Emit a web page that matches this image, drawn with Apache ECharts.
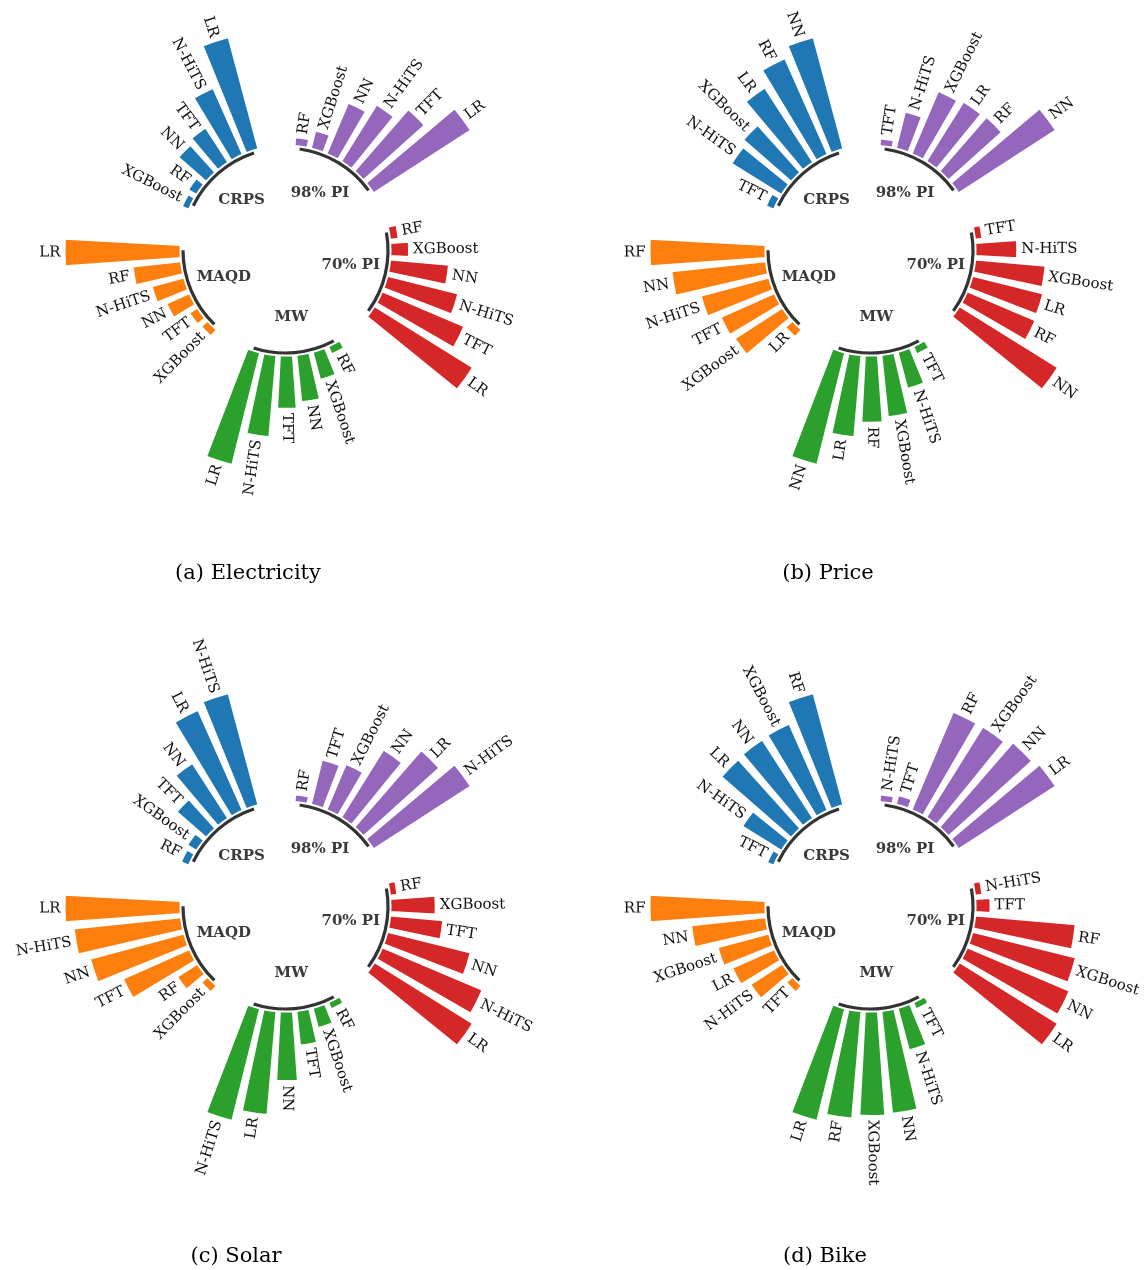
<!DOCTYPE html>
<html>
<head>
<meta charset="utf-8">
<script src="https://cdn.jsdelivr.net/npm/echarts@6/dist/echarts.min.js"></script>
<style>
html, body { margin: 0; padding: 0; background: #fff; }
#main { width: 1144px; height: 1270px; }
</style>
</head>
<body>
<div id="main"></div>
<script>
var groups = ['CRPS', '98% PI', '70% PI', 'MW', 'MAQD'];

// models of every metric, listed clockwise (shortest bar first)
var elecModels = [
    ['XGBoost', 'RF', 'NN', 'TFT', 'N-HiTS', 'LR'],
    ['RF', 'XGBoost', 'NN', 'N-HiTS', 'TFT', 'LR'],
    ['RF', 'XGBoost', 'NN', 'N-HiTS', 'TFT', 'LR'],
    ['RF', 'XGBoost', 'NN', 'TFT', 'N-HiTS', 'LR'],
    ['XGBoost', 'TFT', 'NN', 'N-HiTS', 'RF', 'LR']
];
var elecScores = [
    [0.065, 0.085, 0.32, 0.36, 0.63, 1.00],
    [0.075, 0.16, 0.48, 0.58, 0.71, 1.00],
    [0.075, 0.16, 0.51, 0.63, 0.77, 1.00],
    [0.075, 0.25, 0.41, 0.46, 0.71, 1.00],
    [0.075, 0.085, 0.22, 0.29, 0.42, 1.00]
];

var priceModels = [
    ['TFT', 'N-HiTS', 'XGBoost', 'LR', 'RF', 'NN'],
    ['TFT', 'N-HiTS', 'XGBoost', 'LR', 'RF', 'NN'],
    ['TFT', 'N-HiTS', 'XGBoost', 'LR', 'RF', 'NN'],
    ['TFT', 'N-HiTS', 'XGBoost', 'RF', 'LR', 'NN'],
    ['LR', 'XGBoost', 'TFT', 'N-HiTS', 'NN', 'RF']
];
var priceScores = [
    [0.075, 0.51, 0.55, 0.77, 0.91, 1.00],
    [0.065, 0.33, 0.59, 0.61, 0.62, 1.00],
    [0.065, 0.36, 0.61, 0.63, 0.64, 1.00],
    [0.075, 0.33, 0.54, 0.58, 0.71, 1.00],
    [0.085, 0.49, 0.51, 0.61, 0.82, 1.00]
];

var solarModels = [
    ['RF', 'XGBoost', 'TFT', 'NN', 'LR', 'N-HiTS'],
    ['RF', 'TFT', 'XGBoost', 'NN', 'LR', 'N-HiTS'],
    ['RF', 'XGBoost', 'TFT', 'NN', 'N-HiTS', 'LR'],
    ['RF', 'XGBoost', 'TFT', 'NN', 'LR', 'N-HiTS'],
    ['XGBoost', 'RF', 'TFT', 'NN', 'N-HiTS', 'LR']
];
var solarScores = [
    [0.075, 0.095, 0.34, 0.57, 0.95, 1.00],
    [0.065, 0.40, 0.43, 0.69, 0.88, 1.00],
    [0.065, 0.39, 0.46, 0.74, 0.94, 1.00],
    [0.065, 0.18, 0.30, 0.60, 0.90, 1.00],
    [0.075, 0.21, 0.63, 0.84, 0.93, 1.00]
];

var bikeModels = [
    ['TFT', 'N-HiTS', 'LR', 'NN', 'XGBoost', 'RF'],
    ['N-HiTS', 'TFT', 'RF', 'XGBoost', 'NN', 'LR'],
    ['N-HiTS', 'TFT', 'RF', 'XGBoost', 'NN', 'LR'],
    ['TFT', 'N-HiTS', 'NN', 'XGBoost', 'RF', 'LR'],
    ['TFT', 'N-HiTS', 'LR', 'XGBoost', 'NN', 'RF']
];
var bikeScores = [
    [0.065, 0.40, 0.80, 0.81, 0.82, 1.00],
    [0.065, 0.085, 0.92, 0.925, 0.97, 1.00],
    [0.065, 0.13, 0.87, 0.92, 0.96, 1.00],
    [0.065, 0.38, 0.89, 0.90, 0.93, 1.00],
    [0.075, 0.33, 0.40, 0.46, 0.65, 1.00]
];

var captions = ['(a) Electricity', '(b) Price', '(c) Solar', '(d) Bike'];
var panelModels = [elecModels, priceModels, solarModels, bikeModels];
var panelScores = [elecScores, priceScores, solarScores, bikeScores];

// layout / style
var colors = ['#1f77b4', '#9467bd', '#d62728', '#2ca02c', '#ff7f0e'];
var centers = [[285.5, 250.5], [870.5, 250.5], [285.5, 906.5], [870.5, 906.5]];
var captionPos = [[248, 574], [828, 574], [236, 1257], [825, 1257]];
var SLOTS = 8;   // 6 bars + 2 empty slots per metric
var labelFont = "15px 'DejaVu Serif'";
var groupFont = "bold 15px 'DejaVu Serif'";

var option = {
    animation: false,
    backgroundColor: '#fff',
    polar: [],
    angleAxis: [],
    radiusAxis: [],
    series: [],
    graphic: []
};

panelModels.forEach(function (models, pi) {
    var scores = panelScores[pi];
    var slotNames = [], barData = [], labelData = [], labelNames = [];
    for (var i = 0; i < groups.length * SLOTS; i++) {
        var g = Math.floor(i / SLOTS), k = i % SLOTS;
        if (k < models[g].length) {
            slotNames.push(groups[g] + ' ' + models[g][k]);
            barData.push({ value: scores[g][k], itemStyle: { color: colors[g] } });
            labelData.push([scores[g][k], i]);
            labelNames.push(models[g][k]);
        } else {
            slotNames.push('gap ' + i);
            barData.push('-');
        }
    }

    option.polar.push({ center: centers[pi], radius: [105, 221] });
    option.angleAxis.push({
        polarIndex: pi, type: 'category', data: slotNames,
        startAngle: 158, clockwise: true, boundaryGap: true,
        axisLine: { show: false }, axisTick: { show: false },
        axisLabel: { show: false }, splitLine: { show: false }
    });
    option.radiusAxis.push({
        polarIndex: pi, type: 'value', min: 0, max: 1,
        axisLine: { show: false }, axisTick: { show: false },
        axisLabel: { show: false }, splitLine: { show: false }
    });

    option.series.push({
        type: 'bar', coordinateSystem: 'polar', polarIndex: pi,
        barWidth: '79%',
        itemStyle: { borderColor: '#fff', borderWidth: 2 },
        data: barData
    });

    // model names at the bar tips, turned along the radius
    option.series.push({
        type: 'custom', coordinateSystem: 'polar', polarIndex: pi, z: 5,
        data: labelData,
        renderItem: function (params, api) {
            var cs = params.coordSys;
            var p = api.coord([api.value(0), api.value(1)]);
            var dx = p[0] - cs.cx, dy = p[1] - cs.cy;
            var len = Math.sqrt(dx * dx + dy * dy);
            var pad = 4;
            var ang = Math.atan2(-dy, dx);
            var right = dx >= 0;
            return {
                type: 'text',
                x: p[0] + dx / len * pad,
                y: p[1] + dy / len * pad,
                rotation: right ? ang : ang - Math.PI,
                style: {
                    text: labelNames[params.dataIndex],
                    font: labelFont, fill: '#111',
                    align: right ? 'left' : 'right', verticalAlign: 'middle'
                }
            };
        }
    });

    // dark arc under every metric and its name inside the circle
    option.series.push({
        type: 'custom', coordinateSystem: 'polar', polarIndex: pi, z: 6,
        data: groups.map(function (name, g) { return [0, g * SLOTS, g * SLOTS + models[g].length - 1]; }),
        renderItem: function (params, api) {
            var cs = params.coordSys;
            var a = api.coord([0, api.value(1)]);
            var b = api.coord([0, api.value(2)]);
            var angA = Math.atan2(a[1] - cs.cy, a[0] - cs.cx);
            var angB = Math.atan2(b[1] - cs.cy, b[0] - cs.cx);
            if (angB < angA) angB += Math.PI * 2;
            var ext = 0.6 * Math.PI / 180;
            var mid = (angA + angB) / 2;
            return {
                type: 'group',
                children: [{
                    type: 'arc',
                    shape: { cx: cs.cx, cy: cs.cy, r: cs.r0 - 2.5, startAngle: angA - ext, endAngle: angB + ext, clockwise: true },
                    style: { stroke: '#333', lineWidth: 3.2, fill: null }
                }, {
                    type: 'text',
                    x: cs.cx + Math.cos(mid) * 67,
                    y: cs.cy + Math.sin(mid) * 67,
                    style: {
                        text: groups[params.dataIndex], font: groupFont, fill: '#3a3a3a',
                        align: 'center', verticalAlign: 'middle'
                    }
                }]
            };
        }
    });

    option.graphic.push({
        type: 'text', x: captionPos[pi][0], y: captionPos[pi][1],
        style: {
            text: captions[pi], font: "21px 'DejaVu Serif'", fill: '#000',
            align: 'center', verticalAlign: 'middle'
        }
    });
});

var chart = echarts.init(document.getElementById('main'));
chart.setOption(option);
</script>
</body>
</html>
